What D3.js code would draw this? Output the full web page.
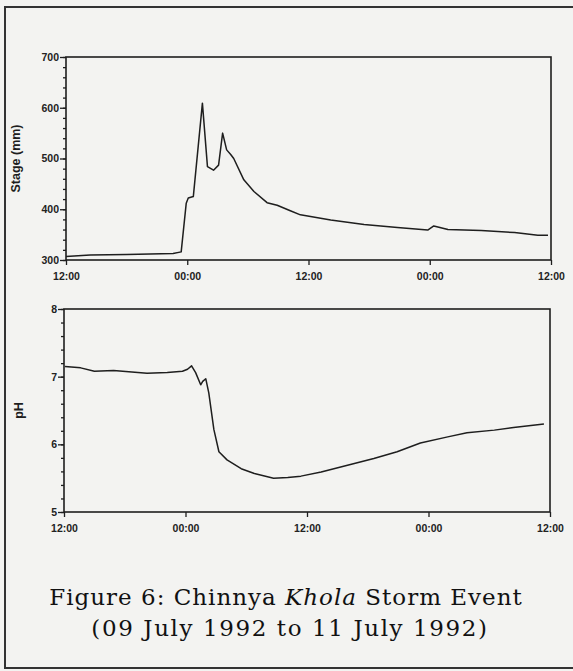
<!DOCTYPE html>
<html>
<head>
<meta charset="utf-8">
<script src="https://cdn.jsdelivr.net/npm/d3@7"></script>
<style>
  body { margin: 0; background: #f3f3f1; }
  svg { display: block; }
  .tick text { font-family: "Liberation Sans", Arial, sans-serif; font-weight: bold; font-size: 10.5px; fill: #222; }
</style>
</head>
<body>
<svg width="573" height="671"></svg>
<script>
// hours since 12:00 on 09 July 1992
var stageHours = [0, 2.4, 6, 10.6, 11.4, 11.9, 12.1, 12.6, 13.5, 14.0, 14.6, 15.1, 15.5, 15.9, 16.3, 16.6,
                  17.6, 18.6, 19.9, 20.9, 22.2, 23.2, 26.2, 29.5, 32.8, 35.8, 36.4, 37.8, 41.1, 44.4, 46.7, 47.7];
var stageMm = [307, 310, 311, 313, 316, 412, 422, 425, 609, 484, 477, 487, 550, 517, 508, 500,
               458, 435, 413, 408, 397, 389, 379, 370, 364, 359, 367, 360, 358, 354, 349, 349];

var phHours = [0.1, 1.65, 3.0, 4.9, 8.2, 10.2, 11.7, 12.2, 12.6, 13.0, 13.5, 13.7, 14.0, 14.3, 14.8, 15.3,
               16.1, 17.5, 18.8, 20.7, 22.1, 23.4, 25.4, 28.0, 30.6, 32.9, 35.2, 37.9, 39.8, 42.5, 44.4, 47.4];
var phValues = [7.15, 7.13, 7.08, 7.09, 7.05, 7.06, 7.08, 7.11, 7.16, 7.06, 6.88, 6.93, 6.97, 6.76, 6.22, 5.89,
                5.77, 5.64, 5.57, 5.50, 5.51, 5.53, 5.59, 5.69, 5.79, 5.89, 6.02, 6.11, 6.17, 6.21, 6.25, 6.30];

var timeTicks = [0, 12, 24, 36, 48];
var timeLabels = ["12:00", "00:00", "12:00", "00:00", "12:00"];
var stageTicks = [300, 400, 500, 600, 700];
var phTicks = [5, 6, 7, 8];

var svg = d3.select("svg");
var ink = "#1e1e1e";

// page border from the scan
svg.append("rect")
    .attr("x", 5).attr("y", 7)
    .attr("width", 600).attr("height", 661)
    .attr("fill", "none")
    .attr("stroke", "#333")
    .attr("stroke-width", 2);

function drawPanel(top, bottom, left, right, yDomain, majors, minorStep, hours, values, yLabel, labelX) {
    var x = d3.scaleLinear().domain([0, 48]).range([left, right]);
    var y = d3.scaleLinear().domain(yDomain).range([bottom, top]);
    var g = svg.append("g");

    // minor y ticks
    var minors = d3.range(yDomain[0], yDomain[1] + minorStep / 2, minorStep);
    g.append("g")
        .attr("transform", `translate(${left},0)`)
        .call(d3.axisLeft(y).tickValues(minors).tickSize(3).tickFormat(""))
        .call(a => a.select(".domain").remove());

    // major y ticks
    g.append("g")
        .attr("transform", `translate(${left},0)`)
        .call(d3.axisLeft(y).tickValues(majors).tickSize(6).tickPadding(1).tickFormat(d3.format("d")))
        .call(a => a.select(".domain").remove());

    // x axis
    g.append("g")
        .attr("transform", `translate(0,${bottom})`)
        .call(d3.axisBottom(x).tickValues(timeTicks).tickSize(5).tickPadding(8)
            .tickFormat((d, i) => timeLabels[i]))
        .call(a => a.select(".domain").remove());

    g.selectAll(".tick line").attr("stroke", ink).attr("stroke-width", 1.3);

    // frame
    g.append("rect")
        .attr("x", left).attr("y", top)
        .attr("width", right - left).attr("height", bottom - top)
        .attr("fill", "none")
        .attr("stroke", ink)
        .attr("stroke-width", 1.6);

    var line = d3.line()
        .x((d, i) => x(hours[i]))
        .y(d => y(d));
    g.append("path")
        .attr("fill", "none")
        .attr("stroke", ink)
        .attr("stroke-width", 1.5)
        .attr("stroke-linejoin", "round")
        .attr("d", line(values));

    svg.append("text")
        .attr("transform", `translate(${labelX},${(top + bottom) / 2}) rotate(-90)`)
        .attr("text-anchor", "middle")
        .attr("font-family", "Liberation Sans, Arial, sans-serif")
        .attr("font-weight", "bold")
        .attr("font-size", 12.5)
        .attr("fill", ink)
        .text(yLabel);
}

drawPanel(57, 260, 66, 551, [300, 700], stageTicks, 20, stageHours, stageMm, "Stage (mm)", 20);
drawPanel(309, 512, 64, 550, [5, 8], phTicks, 0.2, phHours, phValues, "pH", 23);

// caption
var cap = svg.append("text")
    .attr("x", 286).attr("y", 605)
    .attr("text-anchor", "middle")
    .attr("font-family", "DejaVu Serif, serif")
    .attr("font-size", 23)
    .attr("letter-spacing", 1)
    .attr("fill", "#111");
cap.append("tspan").text("Figure 6: Chinnya ");
cap.append("tspan").attr("font-style", "italic").text("Khola");
cap.append("tspan").text(" Storm Event");

svg.append("text")
    .attr("x", 290).attr("y", 636)
    .attr("text-anchor", "middle")
    .attr("font-family", "DejaVu Serif, serif")
    .attr("font-size", 23)
    .attr("letter-spacing", 1.6)
    .attr("fill", "#111")
    .text("(09 July 1992 to 11 July 1992)");
</script>
</body>
</html>
